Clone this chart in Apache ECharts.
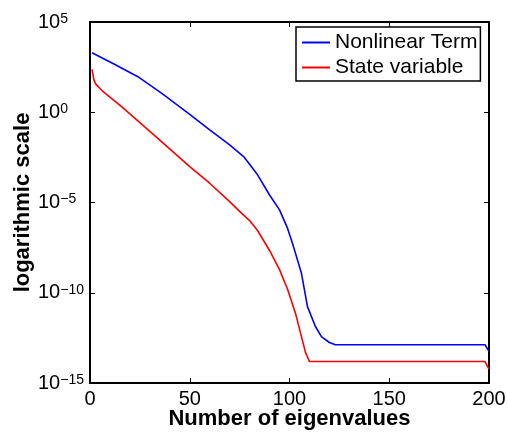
<!DOCTYPE html>
<html>
<head>
<meta charset="utf-8">
<script src="https://cdn.jsdelivr.net/npm/echarts@6/dist/echarts.min.js"></script>
<style>
  html, body { margin: 0; padding: 0; background: #fff; }
  #chart { width: 508px; height: 432px; }
</style>
</head>
<body>
<div id="chart"></div>
<script>
// Eigenvalue index (x) and magnitude (y) for each curve
const nonlinearIndex = [1, 12, 24, 36, 50, 60, 70, 77, 84, 90, 95, 99, 102, 106, 109, 113, 116, 120, 123, 198, 200];
const nonlinearValues = [2.0e3, 4.7e2, 9.3e1, 1.1e1, 7.6e-1, 1.05e-1, 1.55e-2, 3.5e-3, 3.4e-4, 2.6e-5, 3.9e-6, 3.8e-7, 3.6e-8, 1.2e-9, 1.7e-11, 1.35e-12, 3.7e-13, 1.75e-13, 1.32e-13, 1.32e-13, 5.6e-14];

const stateIndex = [1, 2, 3, 6, 16, 34, 50, 60, 70, 75, 80, 84, 90, 95, 99, 103, 105, 108, 110, 198, 200];
const stateValues = [2.4e2, 6.0e1, 3.5e1, 1.6e1, 2.0, 3.6e-2, 9.8e-4, 1.17e-4, 1.12e-5, 3.2e-6, 1.0e-6, 2.8e-7, 2.2e-8, 1.9e-9, 1.6e-10, 7.4e-12, 1.0e-12, 5.0e-14, 1.55e-14, 1.55e-14, 5.9e-15];

const seriesNames = ['Nonlinear Term', 'State variable'];
const seriesColors = ['#0000ff', '#ff0000'];
const xTicks = [0, 50, 100, 150, 200];
const yTicks = [1e-15, 1e-10, 1e-5, 1e0, 1e5];

const FONT = '"Liberation Sans", Arial, Helvetica, sans-serif';

function pairs(xs, ys) {
  return xs.map((x, i) => [x, ys[i]]);
}

// tick label "10" with a raised exponent
function powerLabel(v) {
  const e = Math.round(Math.log10(v));
  const exp = e < 0 ? '\u2212' + (-e) : String(e);
  return '{b|10}{s|' + exp + '}';
}

const chart = echarts.init(document.getElementById('chart'), null, { renderer: 'canvas' });

const frameLine = { show: true, onZero: false, lineStyle: { color: '#000', width: 2 } };
const innerTick = { show: true, inside: true, length: 5, lineStyle: { color: '#000', width: 1 } };

chart.setOption({
  animation: false,
  backgroundColor: '#fff',
  grid: { left: 90, right: 19, top: 22, bottom: 49, containLabel: false, outerBoundsMode: 'none' },
  legend: {
    orient: 'vertical',
    left: 296,
    top: 27,
    padding: [5, 3, 3, 6],
    itemWidth: 28,
    itemHeight: 2,
    itemGap: 4,
    icon: 'rect',
    borderColor: '#000',
    borderWidth: 1.5,
    backgroundColor: '#fff',
    textStyle: { fontFamily: FONT, fontSize: 21, color: '#000', lineHeight: 21 },
    data: seriesNames.map((name, i) => ({ name: name, icon: 'rect', itemStyle: { color: seriesColors[i] } }))
  },
  xAxis: [
    {
      type: 'value',
      position: 'bottom',
      min: xTicks[0],
      max: xTicks[xTicks.length - 1],
      interval: 50,
      name: 'Number of eigenvalues',
      nameLocation: 'middle',
      nameGap: 25,
      nameMoveOverlap: false,
      nameTextStyle: { fontFamily: FONT, fontSize: 22, fontWeight: 'bold', color: '#000' },
      axisLine: frameLine,
      axisTick: innerTick,
      splitLine: { show: false },
      axisLabel: { fontFamily: FONT, fontSize: 20, color: '#000', margin: 6, hideOverlap: false, showMinLabel: true, showMaxLabel: true }
    },
    {
      type: 'value',
      position: 'top',
      min: xTicks[0],
      max: xTicks[xTicks.length - 1],
      interval: 50,
      axisLine: frameLine,
      axisTick: innerTick,
      splitLine: { show: false },
      axisLabel: { show: false }
    }
  ],
  yAxis: [
    {
      type: 'log',
      logBase: 10,
      position: 'left',
      min: yTicks[0],
      max: yTicks[yTicks.length - 1],
      interval: 5,
      name: 'logarithmic scale',
      nameLocation: 'middle',
      nameGap: 56,
      nameMoveOverlap: false,
      nameTextStyle: { fontFamily: FONT, fontSize: 22, fontWeight: 'bold', color: '#000' },
      axisLine: frameLine,
      axisTick: innerTick,
      minorTick: { show: false },
      splitLine: { show: false },
      axisLabel: {
        align: 'left',
        margin: 52,
        hideOverlap: false,
        showMinLabel: true,
        showMaxLabel: true,
        formatter: powerLabel,
        rich: {
          b: { fontFamily: FONT, fontSize: 20, color: '#000', lineHeight: 20, padding: [8, 0, 8, 0], verticalAlign: 'middle' },
          s: { fontFamily: FONT, fontSize: 14, color: '#000', lineHeight: 14, verticalAlign: 'top' }
        }
      }
    },
    {
      type: 'log',
      logBase: 10,
      position: 'right',
      min: yTicks[0],
      max: yTicks[yTicks.length - 1],
      interval: 5,
      axisLine: frameLine,
      axisTick: innerTick,
      minorTick: { show: false },
      splitLine: { show: false },
      axisLabel: { show: false }
    }
  ],
  series: [
    {
      name: seriesNames[0],
      type: 'line',
      xAxisIndex: 0,
      yAxisIndex: 0,
      symbol: 'none',
      showSymbol: false,
      lineStyle: { color: seriesColors[0], width: 1.6 },
      itemStyle: { color: seriesColors[0] },
      data: pairs(nonlinearIndex, nonlinearValues)
    },
    {
      name: seriesNames[1],
      type: 'line',
      xAxisIndex: 0,
      yAxisIndex: 0,
      symbol: 'none',
      showSymbol: false,
      lineStyle: { color: seriesColors[1], width: 1.6 },
      itemStyle: { color: seriesColors[1] },
      data: pairs(stateIndex, stateValues)
    }
  ]
});
</script>
</body>
</html>
